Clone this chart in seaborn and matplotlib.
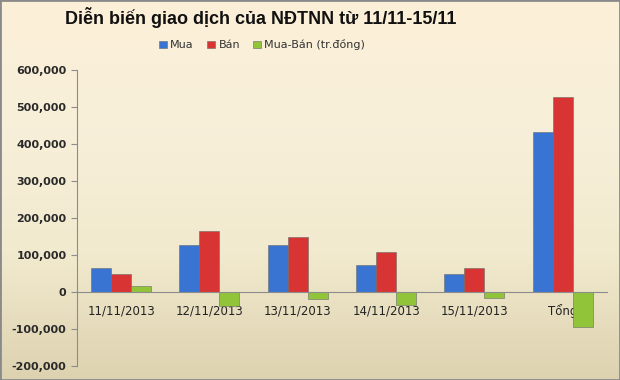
import numpy as np
import pandas as pd
import matplotlib
matplotlib.use('Agg')
import matplotlib.pyplot as plt
import matplotlib.ticker as mticker
import seaborn as sns

# du lieu doc tu hinh (trieu dong)
ngay = ['11/11/2013', '12/11/2013', '13/11/2013', '14/11/2013', '15/11/2013', 'Tổng']
mua = [65000, 126000, 128000, 74000, 49000, 433000]
ban = [49000, 165000, 148000, 109000, 65000, 528000]
mua_ban = [16000, -39000, -20000, -35000, -16000, -95000]
series = ['Mua', 'Bán', 'Mua-Bán (tr.đồng)']
colors = ['#3a74d2', '#d93434', '#92c43a']

df = pd.DataFrame({'ngay': ngay * 3,
                   'loai': [s for s in series for _ in ngay],
                   'gt': mua + ban + mua_ban})

sns.set_style('white')
plt.rcParams['font.family'] = ['DejaVu Sans']

fig = plt.figure(figsize=(6.2, 3.8), dpi=100)

# nen gradient
bg = fig.add_axes([0, 0, 1, 1], zorder=0)
grad = np.linspace(0, 1, 256).reshape(-1, 1)
cmap = matplotlib.colors.LinearSegmentedColormap.from_list('nen', ['#fdf0d8', '#f7efd9', '#f2eace', '#ddd2b0'])
bg.imshow(grad, aspect='auto', cmap=cmap, extent=[0, 1, 0, 1])
bg.set_axis_off()
fig.patches.append(plt.Rectangle((0, 0), 1, 1, transform=fig.transFigure,
                                 fill=False, edgecolor='#8a8a8a', linewidth=2, zorder=10))

ax = fig.add_axes([0.124, 0.037, 0.855, 0.779], zorder=1)
ax.patch.set_alpha(0)
sns.barplot(data=df, x='ngay', y='gt', hue='loai', palette=colors, saturation=1, width=0.68,
            edgecolor='#6a6a6a', linewidth=0.4, ax=ax, legend=True)

ax.set_ylim(-200000, 600000)
ax.set_xlim(-0.5, 5.5)
ax.yaxis.set_major_locator(mticker.MultipleLocator(100000))
ax.yaxis.set_major_formatter(mticker.FuncFormatter(lambda v, p: f'{int(v):,}'))
ax.tick_params(axis='y', labelsize=8, length=4, direction='out', left=True, color='#8c8c8c')
for t in ax.get_yticklabels():
    t.set_fontweight('bold')
    t.set_color('#2a2a2a')

ax.spines['top'].set_visible(False)
ax.spines['right'].set_visible(False)
ax.spines['left'].set_color('#8c8c8c')
ax.spines['bottom'].set_position(('data', 0))
ax.spines['bottom'].set_color('#8c8c8c')
ax.set_xticks(np.arange(-0.5, 6.0, 1.0), minor=True)
ax.tick_params(axis='x', which='minor', length=4, color='#8c8c8c', direction='out')
ax.tick_params(axis='x', which='major', length=0, labelsize=8.5, pad=9, colors='#222222')
ax.set_xlabel('')
ax.set_ylabel('')

handles, labels = ax.get_legend_handles_labels()
ax.get_legend().remove()
leg = fig.legend(handles, labels, loc='center', bbox_to_anchor=(0.423, 0.882), ncol=3,
                 frameon=False, fontsize=8, handlelength=0.7, handleheight=0.7,
                 handletextpad=0.3, columnspacing=1.2)
for t in leg.get_texts():
    t.set_color('#333333')

fig.text(0.42, 0.953, 'Diễn biến giao dịch của NĐTNN từ 11/11-15/11', ha='center', va='center',
         fontsize=13, fontweight='bold', color='#111111', family=['Liberation Sans', 'DejaVu Sans'])

fig.savefig('out.png', dpi=100)
